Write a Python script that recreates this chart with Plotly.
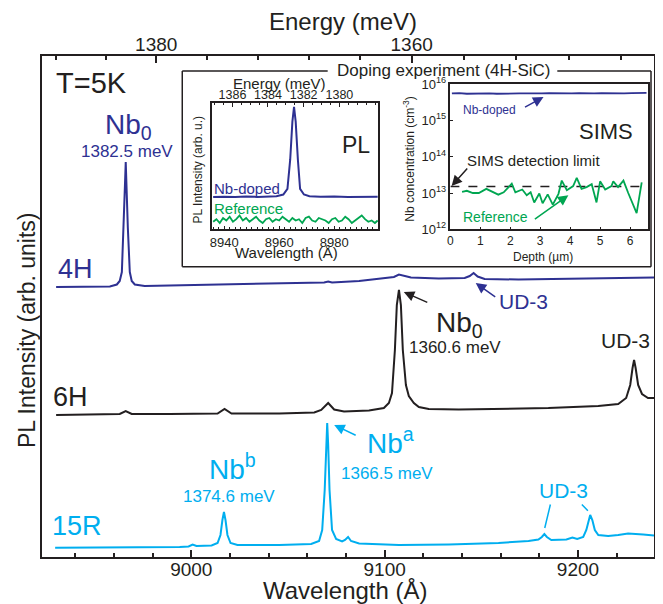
import plotly.graph_objects as go

# ---------------- DATA ----------------
# Main panel: wavelength (Å, air) and PL intensity (arb. units, vertically offset)
WL_4H = [8930.1, 8947.6, 8957.9, 8961.5, 8963.0, 8964.1, 8965.1, 8965.7, 8966.1, 8966.4,
         8967.2, 8968.2, 8969.2, 8970.8, 8975.9, 8988.8, 9004.3, 9019.7, 9035.2, 9055.8,
         9068.7, 9070.8, 9072.8, 9086.8, 9099.6, 9104.8, 9107.4, 9110.0, 9113.6, 9128.0,
         9141.4, 9144.0, 9146.0, 9148.1, 9151.7, 9169.2, 9189.8, 9210.5, 9239.3]
INT_4H = [2.70, 2.702, 2.705, 2.725, 2.76, 2.85, 3.29, 3.72, 3.95, 3.72,
          3.29, 2.85, 2.76, 2.725, 2.71, 2.715, 2.72, 2.725, 2.73, 2.74,
          2.745, 2.755, 2.745, 2.76, 2.785, 2.80, 2.825, 2.81, 2.795, 2.785,
          2.79, 2.81, 2.84, 2.805, 2.78, 2.775, 2.78, 2.785, 2.795]

WL_6H = [8930.1, 8952.7, 8963.0, 8966.1, 8969.2, 8988.8, 9013.6, 9017.2, 9020.8, 9045.5,
         9063.6, 9067.2, 9070.8, 9073.9, 9079.0, 9091.9, 9099.6, 9102.2, 9103.8, 9105.3,
         9106.3, 9107.4, 9108.4, 9109.4, 9111.0, 9112.5, 9115.1, 9117.7, 9122.8, 9138.3,
         9158.9, 9184.7, 9210.5, 9220.8, 9224.9, 9227.0, 9228.2, 9229.0, 9229.8, 9231.1,
         9233.1, 9236.2, 9239.3]
INT_6H = [1.42, 1.425, 1.43, 1.46, 1.43, 1.43, 1.435, 1.48, 1.435, 1.435,
          1.445, 1.47, 1.54, 1.475, 1.455, 1.465, 1.49, 1.54, 1.64, 2.07,
          2.52, 2.67, 2.52, 2.07, 1.72, 1.61, 1.54, 1.50, 1.48, 1.475,
          1.48, 1.49, 1.51, 1.53, 1.59, 1.72, 1.89, 1.97, 1.89, 1.72,
          1.63, 1.59, 1.59]

WL_15R = [8929.6, 8963.0, 8994.0, 8998.6, 9000.7, 9002.7, 9010.5, 9013.6, 9015.1, 9016.1,
          9016.9, 9017.7, 9018.7, 9020.3, 9023.9, 9045.5, 9062.0, 9066.1, 9067.7, 9069.0,
          9069.7, 9070.3, 9070.8, 9071.5, 9072.8, 9074.9, 9078.0, 9079.5, 9081.1, 9082.6,
          9086.8, 9107.4, 9133.2, 9158.9, 9174.4, 9179.5, 9181.3, 9182.6, 9183.9, 9186.2,
          9194.0, 9197.1, 9199.6, 9202.7, 9204.3, 9205.6, 9206.3, 9207.4, 9208.7, 9210.5,
          9215.6, 9220.8, 9225.9, 9233.7, 9239.3]
INT_15R = [0.093, 0.095, 0.10, 0.105, 0.125, 0.11, 0.115, 0.14, 0.22, 0.37,
           0.45, 0.37, 0.22, 0.14, 0.12, 0.12, 0.13, 0.16, 0.27, 0.67,
           1.12, 1.34, 1.12, 0.67, 0.27, 0.18, 0.155, 0.17, 0.20, 0.16,
           0.135, 0.12, 0.125, 0.14, 0.16, 0.175, 0.20, 0.23, 0.20, 0.17,
           0.175, 0.195, 0.18, 0.20, 0.27, 0.39, 0.42, 0.37, 0.27, 0.22,
           0.21, 0.22, 0.235, 0.225, 0.215]

WL_RANGE = [8922.8, 9239.3]
WL_MAJOR = [9000, 9100, 9200]
E_MAJOR = [1380, 1360]
E_MINOR = [1388, 1384, 1376, 1372, 1368, 1364, 1356, 1352, 1348, 1344]

# Inset PL (4H-SiC doping experiment)
PL_WL_RANGE = [8935.5, 8996.0]
PL_WL_MAJOR = [8940, 8960, 8980]
PL_E_MAJOR = [1386, 1384, 1382, 1380]
PL_E_MINOR = [1388.0, 1387.5, 1387.0, 1386.5, 1385.5, 1385.0, 1384.5, 1383.5, 1383.0,
              1382.5, 1381.5, 1381.0, 1380.5, 1379.5, 1379.0, 1378.5, 1378.0]
PL_DOPED_WL = [8936.0, 8940.0, 8944.0, 8948.0, 8952.0, 8956.0, 8959.0, 8961.5, 8963.0, 8964.0,
               8964.8, 8965.4, 8966.0, 8966.8, 8967.6, 8969.0, 8971.0, 8975.0, 8980.0, 8985.0,
               8990.0, 8995.8]
PL_DOPED_INT = [0.255, 0.258, 0.255, 0.260, 0.256, 0.258, 0.262, 0.275, 0.32, 0.55,
                0.85, 0.968, 0.85, 0.55, 0.32, 0.275, 0.262, 0.257, 0.259, 0.255,
                0.258, 0.257]
PL_REF_WL = [8936.0, 8937.2, 8938.4, 8939.6, 8940.8, 8942.0, 8943.2, 8944.4, 8945.6, 8946.8,
             8948.0, 8949.2, 8950.4, 8951.6, 8952.8, 8954.0, 8955.2, 8956.4, 8957.6, 8958.8,
             8960.0, 8961.2, 8962.4, 8963.6, 8964.8, 8966.0, 8967.2, 8968.4, 8969.6, 8970.8,
             8972.0, 8973.2, 8974.4, 8975.6, 8976.8, 8978.0, 8979.2, 8980.4, 8981.6, 8982.8,
             8984.0, 8985.2, 8986.4, 8987.6, 8988.8, 8990.0, 8991.2, 8992.4, 8993.6, 8994.8,
             8995.8]
PL_REF_INT = [0.06, 0.08, 0.05, 0.09, 0.07, 0.10, 0.06, 0.08, 0.11, 0.07,
              0.09, 0.06, 0.08, 0.10, 0.07, 0.05, 0.08, 0.09, 0.06, 0.08,
              0.07, 0.10, 0.08, 0.06, 0.09, 0.07, 0.08, 0.05, 0.09, 0.10,
              0.07, 0.06, 0.09, 0.08, 0.07, 0.05, 0.08, 0.09, 0.06, 0.07,
              0.10, 0.08, 0.05, 0.07, 0.09, 0.11, 0.08, 0.06, 0.07, 0.05, 0.07]

# Inset SIMS
SIMS_DEPTH_RANGE = [0, 6.6]
SIMS_DOPED_DEPTH = [0.05, 0.30, 0.55, 0.80, 1.05, 1.30, 1.55, 1.80, 2.05, 2.30, 2.55, 2.80,
                    3.05, 3.30, 3.55, 3.80, 4.05, 4.30, 4.55, 4.80, 5.05, 5.30, 5.55, 5.80,
                    6.05, 6.30, 6.55]
SIMS_DOPED_CONC = [5.5e15, 5.6e15, 5.4e15, 5.5e15, 5.6e15, 5.5e15, 5.4e15, 5.5e15, 5.6e15,
                   5.5e15, 5.5e15, 5.4e15, 5.5e15, 5.6e15, 5.5e15, 5.4e15, 5.5e15, 5.6e15,
                   5.5e15, 5.5e15, 5.6e15, 5.5e15, 5.4e15, 5.5e15, 5.6e15, 5.6e15, 5.7e15]
SIMS_REF_DEPTH = [0.39, 0.55, 0.75, 0.95, 1.20, 1.40, 1.60, 1.78, 2.05, 2.17, 2.40, 2.55,
                  2.68, 2.80, 2.97, 3.08, 3.25, 3.42, 3.61, 3.72, 3.89, 4.10, 4.22, 4.38,
                  4.55, 4.72, 4.88, 5.00, 5.17, 5.38, 5.44, 5.60, 5.78, 5.94, 6.22, 6.39]
SIMS_REF_CONC = [1.08e13, 1.15e13, 1.00e13, 1.00e13, 1.30e13, 1.10e13, 0.90e13, 1.05e13,
                 1.80e13, 1.05e13, 1.25e13, 0.87e13, 1.05e13, 0.55e13, 0.97e13, 0.52e13,
                 0.92e13, 0.48e13, 0.95e13, 2.20e13, 1.20e13, 1.55e13, 2.60e13, 1.30e13,
                 1.45e13, 1.75e13, 0.55e13, 2.10e13, 1.25e13, 1.55e13, 2.10e13, 1.45e13,
                 2.20e13, 1.00e13, 0.28e13, 1.95e13]
SIMS_DETECTION_LIMIT = 1.5e13
SIMS_Y_TICKS = [1e12, 1e13, 1e14, 1e15, 1e16]
SIMS_Y_TEXT = ["10<sup>12</sup>", "10<sup>13</sup>", "10<sup>14</sup>", "10<sup>15</sup>", "10<sup>16</sup>"]

# ---------------- STYLE ----------------
BLUE = "#2E3192"
CYAN = "#00AEEF"
GREEN = "#00A651"
BLACK = "#231F20"
FONT = "Liberation Sans, Arial, sans-serif"


def e_to_air_wl(e_mev):
    """Photon energy (meV) -> air wavelength (Å)."""
    return 12398.42 * 1000.0 / e_mev / 1.000275


fig = go.Figure()

# main spectra
fig.add_trace(go.Scatter(x=WL_4H, y=INT_4H, mode="lines", line=dict(color=BLUE, width=2)))
fig.add_trace(go.Scatter(x=WL_6H, y=INT_6H, mode="lines", line=dict(color=BLACK, width=2)))
fig.add_trace(go.Scatter(x=WL_15R, y=INT_15R, mode="lines", line=dict(color=CYAN, width=2)))
# invisible copy to bind the top energy axis
fig.add_trace(go.Scatter(x=WL_15R, y=INT_15R, xaxis="x2", yaxis="y", mode="lines",
                         line=dict(width=0), opacity=0, hoverinfo="skip"))

# inset PL
fig.add_trace(go.Scatter(x=PL_DOPED_WL, y=PL_DOPED_INT, xaxis="x3", yaxis="y3", mode="lines",
                         line=dict(color=BLUE, width=2)))
fig.add_trace(go.Scatter(x=PL_REF_WL, y=PL_REF_INT, xaxis="x3", yaxis="y3", mode="lines",
                         line=dict(color=GREEN, width=1.8)))
fig.add_trace(go.Scatter(x=PL_REF_WL, y=PL_REF_INT, xaxis="x4", yaxis="y3", mode="lines",
                         line=dict(width=0), opacity=0, hoverinfo="skip"))

# inset SIMS
fig.add_trace(go.Scatter(x=SIMS_DOPED_DEPTH, y=SIMS_DOPED_CONC, xaxis="x5", yaxis="y5", mode="lines",
                         line=dict(color=BLUE, width=1.8)))
fig.add_trace(go.Scatter(x=SIMS_DEPTH_RANGE, y=[SIMS_DETECTION_LIMIT] * 2, xaxis="x5", yaxis="y5",
                         mode="lines", line=dict(color=BLACK, width=1.5, dash="dash")))
fig.add_trace(go.Scatter(x=SIMS_REF_DEPTH, y=SIMS_REF_CONC, xaxis="x5", yaxis="y5", mode="lines",
                         line=dict(color=GREEN, width=1.8)))

axis_common = dict(showgrid=False, zeroline=False, linecolor=BLACK, tickcolor=BLACK,
                   tickfont=dict(family=FONT, color=BLACK))

# the page body adds an 8 px margin, so the figure is 8 px smaller in each direction
fig.update_layout(
    width=655, height=596,
    margin=dict(l=34, r=7, t=48, b=47),
    paper_bgcolor="white", plot_bgcolor="rgba(0,0,0,0)",
    showlegend=False,
    font=dict(family=FONT, color=BLACK),
    xaxis=dict(axis_common, range=WL_RANGE, showline=True, mirror=True, linewidth=2,
               tickmode="array", tickvals=WL_MAJOR, ticks="inside", ticklen=7, tickwidth=1.5,
               ticklabelstandoff=-6,
               tickfont=dict(family=FONT, size=19, color=BLACK),
               minor=dict(dtick=20, tick0=9000, ticks="inside", ticklen=4, tickwidth=1.5,
                          tickcolor=BLACK)),
    xaxis2=dict(axis_common, range=WL_RANGE, overlaying="x", side="top", anchor="y",
                showline=False, tickmode="array",
                tickvals=[e_to_air_wl(e) for e in E_MAJOR], ticktext=[str(e) for e in E_MAJOR],
                ticks="inside", ticklen=7, tickwidth=1.5,
                tickfont=dict(family=FONT, size=19, color=BLACK),
                minor=dict(tickmode="array", tickvals=[e_to_air_wl(e) for e in E_MINOR],
                           ticks="inside", ticklen=4, tickwidth=1.5, tickcolor=BLACK)),
    yaxis=dict(axis_common, range=[0, 5.01], showline=True, mirror=True, linewidth=2,
               showticklabels=False, ticks=""),
    # PL inset
    xaxis3=dict(axis_common, domain=[0.2774, 0.5494], anchor="y3", range=PL_WL_RANGE,
                showline=True, mirror=True, linewidth=1.5, tickmode="array",
                tickvals=PL_WL_MAJOR, ticks="inside", ticklen=4, tickwidth=1,
                tickfont=dict(family=FONT, size=13, color=BLACK),
                minor=dict(dtick=2, tick0=8940, ticks="inside", ticklen=2.5, tickwidth=1,
                           tickcolor=BLACK)),
    xaxis4=dict(axis_common, domain=[0.2774, 0.5494], anchor="y3", overlaying="x3", side="top",
                range=PL_WL_RANGE, showline=False, tickmode="array",
                tickvals=[e_to_air_wl(e) for e in PL_E_MAJOR],
                ticktext=[str(e) for e in PL_E_MAJOR], ticks="inside", ticklen=4, tickwidth=1,
                tickfont=dict(family=FONT, size=12.5, color=BLACK),
                minor=dict(tickmode="array", tickvals=[e_to_air_wl(e) for e in PL_E_MINOR],
                           ticks="inside", ticklen=2.5, tickwidth=1, tickcolor=BLACK)),
    yaxis3=dict(axis_common, domain=[0.654, 0.9068], anchor="x3", range=[0, 1],
                showline=True, mirror=True, linewidth=1.5, showticklabels=False, ticks=""),
    # SIMS inset
    xaxis5=dict(axis_common, domain=[0.6673, 0.9902], anchor="y5", range=SIMS_DEPTH_RANGE,
                showline=True, mirror=True, linewidth=1.5, dtick=1, tick0=0,
                ticks="inside", ticklen=3, tickwidth=1,
                tickfont=dict(family=FONT, size=12, color=BLACK)),
    yaxis5=dict(axis_common, domain=[0.654, 0.9441], anchor="x5", type="log", range=[12, 16],
                showline=True, mirror=True, linewidth=1.5, tickmode="array",
                tickvals=SIMS_Y_TICKS, ticktext=SIMS_Y_TEXT, ticks="inside", ticklen=3,
                tickwidth=1, tickfont=dict(family=FONT, size=13, color=BLACK)),
)

# inset frame (top edge broken around the title)
FRAME = dict(color=BLACK, width=1.5)
for x0, y0, x1, y1 in [(0.2292, 0.5794, 0.9951, 0.5794), (0.2292, 0.5794, 0.2292, 0.9701),
                       (0.9951, 0.5794, 0.9951, 0.9701), (0.2292, 0.9701, 0.4668, 0.9701),
                       (0.8420, 0.9701, 0.9951, 0.9701)]:
    fig.add_shape(type="line", xref="paper", yref="paper", x0=x0, y0=y0, x1=x1, y1=y1,
                  line=FRAME, layer="above")


def txt(text, x, y, size, color=BLACK, xref="x", yref="y", xanchor="center", yanchor="middle",
        angle=0):
    fig.add_annotation(text=text, x=x, y=y, xref=xref, yref=yref, showarrow=False,
                       xanchor=xanchor, yanchor=yanchor, textangle=angle,
                       font=dict(family=FONT, size=size, color=color), borderpad=0)


def arrow(x, y, ax, ay, color, xref="x", yref="y", head=2):
    fig.add_annotation(text="", x=x, y=y, xref=xref, yref=yref, ax=ax, ay=ay, showarrow=True,
                       arrowhead=head, arrowsize=1.4, arrowwidth=1.5, arrowcolor=color)


# axis titles
txt("Energy (meV)", 0.4919, 1.068, 24, xref="paper", yref="paper")
txt("Wavelength (Å)", 0.4967, -0.0659, 24, xref="paper", yref="paper")
txt("PL Intensity (arb. units)", -0.0244, 0.453, 23, xref="paper", yref="paper", angle=-90)

# main labels
txt("T=5K", 8929.5, 4.745, 29, xanchor="left")
txt("Nb<sub>0</sub>", 8967.7, 4.31, 28, BLUE)
txt("1382.5 meV", 8966.6, 4.06, 17, BLUE)
txt("4H", 8940.0, 2.885, 27, BLUE)
txt("6H", 8937.3, 1.605, 27, BLACK)
txt("15R", 8940.9, 0.31, 27, CYAN)
txt("Nb<sub>0</sub>", 9138.8, 2.33, 28, BLACK)
txt("1360.6 meV", 9136.5, 2.095, 17, BLACK)
txt("UD-3", 9224.4, 2.165, 21, BLACK)
txt("UD-3", 9171.8, 2.555, 21, BLUE)
txt("Nb<sup>a</sup>", 9103.2, 1.16, 28, CYAN)
txt("1366.5 meV", 9101.4, 0.84, 17, CYAN)
txt("Nb<sup>b</sup>", 9021.3, 0.90, 28, CYAN)
txt("1374.6 meV", 9019.7, 0.605, 17, CYAN)
txt("UD-3", 9192.4, 0.67, 21, CYAN)

arrow(9109.9, 2.65, 25, 11, BLACK)
arrow(9147.1, 2.74, 21, 15, BLUE)
arrow(9073.9, 1.32, 23, 11, CYAN)
arrow(9182.8, 0.29, 6, -25, CYAN, head=0)
arrow(9205.1, 0.463, -7.5, -7.7, CYAN, head=0)

# inset labels
txt("Doping experiment (4H-SiC)", 0.6564, 0.972, 17, xref="paper", yref="paper")
txt("Energy (meV)", 0.3876, 0.946, 15, xref="paper", yref="paper")
txt("Wavelength (Å)", 0.3990, 0.6075, 15, xref="paper", yref="paper")
txt("PL Intensity (arb. u.)", 0.2541, 0.7725, 12, xref="paper", yref="paper", angle=-90)
txt("Nb-doped", 8935.8, 0.326, 15, BLUE, xref="x3", yref="y3", xanchor="left")
txt("Reference", 8935.8, 0.168, 15, GREEN, xref="x3", yref="y3", xanchor="left")
txt("PL", 8987.9, 0.666, 23, BLACK, xref="x3", yref="y3")

txt("Depth (µm)", 0.8192, 0.5988, 12, xref="paper", yref="paper")
txt("Nb concentration (cm<sup>-3</sup>)", 0.5993, 0.7944, 12, xref="paper", yref="paper", angle=-90)
txt("Nb-doped", 1.29, 15.284, 12, BLUE, xref="x5", yref="y5")
txt("SIMS", 5.19, 14.686, 22, BLACK, xref="x5", yref="y5")
txt("SIMS detection limit", 2.78, 13.906, 15, BLACK, xref="x5", yref="y5")
txt("Reference", 1.5, 12.344, 14, GREEN, xref="x5", yref="y5")

arrow(3.11, 15.642, -20, 11, BLUE, xref="x5", yref="y5")
arrow(0.04, 13.19, 17, -19, BLACK, xref="x5", yref="y5")
arrow(3.94, 12.94, -35, 25, GREEN, xref="x5", yref="y5")

fig.write_html("out.html")
